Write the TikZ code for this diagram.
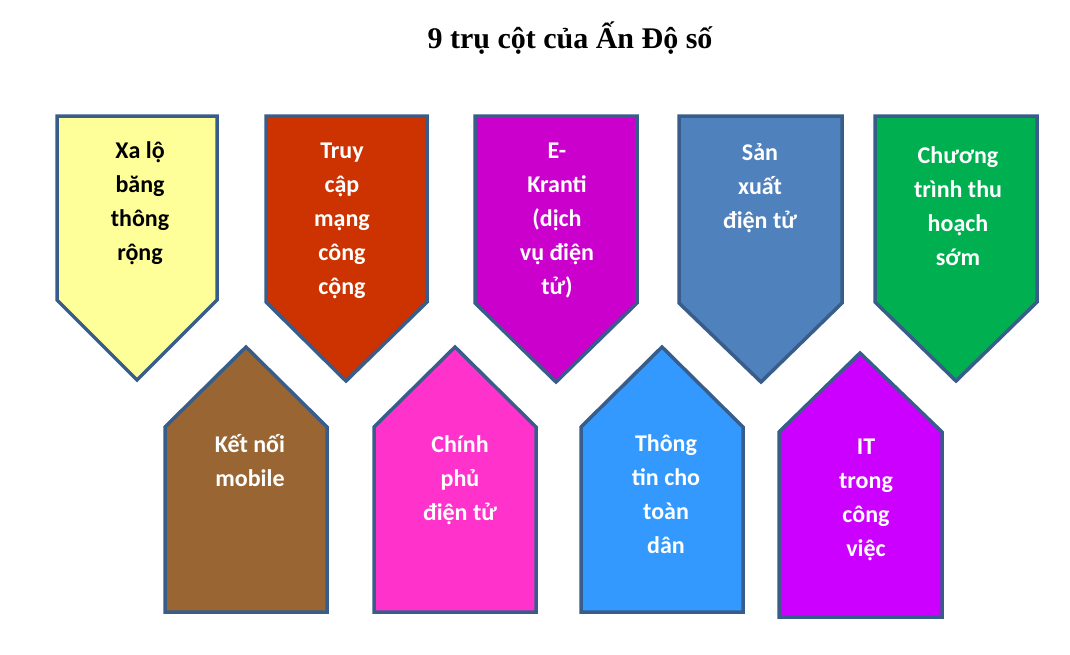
\documentclass[tikz,border=0pt]{standalone}
\usepackage{fontspec}
\newfontfamily\boxfont{Carlito}
\newfontfamily\titlefont{Liberation Serif}
\definecolor{bordercol}{RGB}{56,93,138}
\definecolor{cyellow}{RGB}{255,255,153}
\definecolor{cred}{RGB}{204,51,0}
\definecolor{cmagenta}{RGB}{204,0,204}
\definecolor{csteel}{RGB}{79,129,189}
\definecolor{cgreen}{RGB}{0,176,80}
\definecolor{cbrown}{RGB}{153,102,51}
\definecolor{cpink}{RGB}{255,51,204}
\definecolor{cblue}{RGB}{51,153,255}
\definecolor{cpurple}{RGB}{204,0,255}
\begin{document}
\begin{tikzpicture}[x=1pt,y=-1pt,
  pillar/.style={draw=bordercol, line width=3.5pt, line join=miter},
  lbl/.style={align=center, anchor=north, inner sep=0pt, text=white,
    font=\boxfont\bfseries\fontsize{24}{34}\selectfont},
  ttl/.style={anchor=base, inner sep=0pt, font=\titlefont\bfseries\fontsize{30}{36}\selectfont}]
\useasboundingbox[fill=white] (0,0) rectangle (1070,654);
% title
\node[ttl] (title) at (570,48) {9 trụ cột của Ấn Độ số};
% top row (pointing down)
\draw[pillar, fill=cyellow] (57,116) -- (217,116) -- (217,300) -- (137,380) -- (57,300) -- cycle;
\draw[pillar, fill=cred] (266,116) -- (427,116) -- (427,302) -- (346,381) -- (266,302) -- cycle;
\draw[pillar, fill=cmagenta] (475,116) -- (637,116) -- (637,303) -- (556,382) -- (475,303) -- cycle;
\draw[pillar, fill=csteel] (679,116) -- (842,116) -- (842,303) -- (761,382) -- (679,303) -- cycle;
\draw[pillar, fill=cgreen] (875,116) -- (1037,116) -- (1037,302) -- (956,381) -- (875,302) -- cycle;
% bottom row (pointing up)
\draw[pillar, fill=cbrown] (165,612) -- (327,612) -- (327,427) -- (246,347) -- (165,427) -- cycle;
\draw[pillar, fill=cpink] (374,612) -- (536,612) -- (536,427) -- (455,347) -- (374,427) -- cycle;
\draw[pillar, fill=cblue] (581,612) -- (743,612) -- (743,427) -- (662,347) -- (581,427) -- cycle;
\draw[pillar, fill=cpurple] (779,617) -- (942,617) -- (942,432) -- (860,353) -- (779,432) -- cycle;
% labels
\node[lbl, text=black] (t1) at (140,134) {\strut Xa lộ\\băng\\thông\\rộng};
\node[lbl] (t2) at (342,134) {\strut Truy\\cập\\mạng\\công\\cộng};
\node[lbl] (t3) at (557,134) {\strut E-\\Kranti\\(dịch\\vụ điện\\tử)};
\node[lbl] (t4) at (760,136) {\strut Sản\\xuất\\điện tử};
\node[lbl] (t5) at (958,139) {\strut Chương\\trình thu\\hoạch\\sớm};
\node[lbl] (t6) at (250,428) {\strut Kết nối\\mobile};
\node[lbl] (t7) at (460,428) {\strut Chính\\phủ\\điện tử};
\node[lbl] (t8) at (666,427) {\strut Thông\\tin cho\\toàn\\dân};
\node[lbl] (t9) at (866,430) {\strut IT\\trong\\công\\việc};
\end{tikzpicture}
\end{document}
